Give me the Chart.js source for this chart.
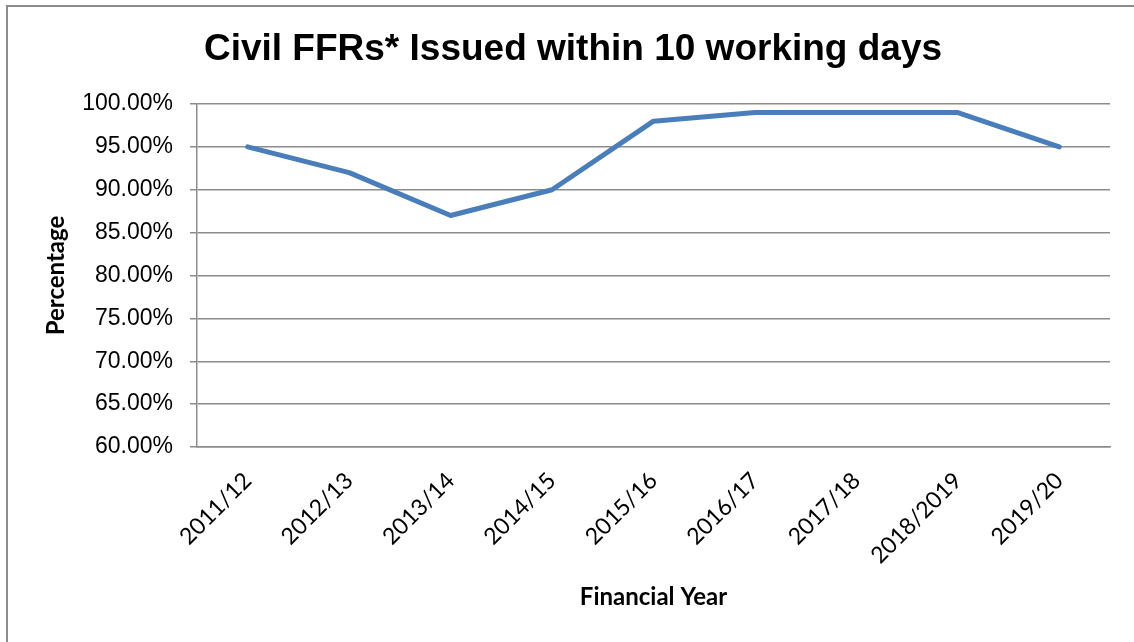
<!DOCTYPE html>
<html>
<head>
<meta charset="utf-8">
<script src="https://cdn.jsdelivr.net/npm/chart.js@4/dist/chart.umd.min.js"></script>
<style>
  html, body { margin: 0; padding: 0; background: #fff; }
  #wrap { position: absolute; left: 0; top: 0; width: 1134px; height: 642px; }
  #frame { position: absolute; left: 6px; top: 5px; width: 1200px; height: 700px;
           border-left: 2px solid #8c8c8c; border-top: 2px solid #8c8c8c; }
  canvas { position: absolute; left: 0; top: 0; }
</style>
</head>
<body>
<div id="wrap">
  <div id="frame"></div>
  <canvas id="c" width="1134" height="642"></canvas>
</div>
<script>
const chartTitle = 'Civil FFRs* Issued within 10 working days';
const xAxisTitle = 'Financial Year';
const yAxisTitle = 'Percentage';
const categories = ['2011/12', '2012/13', '2013/14', '2014/15', '2015/16', '2016/17', '2017/18', '2018/2019', '2019/20'];
const percentValues = [95, 92, 87, 90, 98, 99, 99, 99, 95];
const yMin = 60;
const yMax = 100;
const yStep = 5;

const ctx = document.getElementById('c');
new Chart(ctx, {
  type: 'line',
  data: {
    labels: categories,
    datasets: [{
      data: percentValues,
      borderColor: '#4A7EBB',
      backgroundColor: '#4A7EBB',
      borderWidth: 5,
      borderCapStyle: 'round',
      borderJoinStyle: 'round',
      pointRadius: 0,
      pointHoverRadius: 0,
      tension: 0,
      fill: false
    }]
  },
  options: {
    responsive: false,
    animation: false,
    events: [],
    layout: { padding: { left: 36, right: 24, top: 0, bottom: 0 } },
    plugins: {
      legend: { display: false },
      tooltip: { enabled: false },
      title: {
        display: true,
        text: chartTitle,
        color: '#000',
        font: { family: '"Liberation Sans", Arial, sans-serif', size: 37, weight: 'bold' },
        padding: { top: 28, bottom: 31.6 }
      }
    },
    scales: {
      x: {
        type: 'category',
        offset: true,
        grid: { display: false, drawTicks: false },
        border: { display: true, color: '#8c8c8c', width: 1.5 },
        ticks: {
          color: '#000',
          font: { family: 'Lato, "Open Sans", sans-serif', size: 23 },
          maxRotation: 45,
          minRotation: 45,
          autoSkip: false,
          padding: 20
        },
        title: {
          display: true,
          text: xAxisTitle,
          color: '#000',
          font: { family: 'Lato, "Open Sans", sans-serif', size: 24, weight: 'bold' },
          padding: { top: 0, bottom: 30 }
        },
        afterFit: (s) => { s.height = 195; }
      },
      y: {
        min: yMin,
        max: yMax,
        grid: {
          color: '#8c8c8c',
          lineWidth: 1.5,
          drawTicks: true,
          tickLength: 7
        },
        border: { display: true, color: '#8c8c8c', width: 1.5 },
        ticks: {
          stepSize: yStep,
          color: '#000',
          font: { family: '"Liberation Sans", Arial, sans-serif', size: 23 },
          padding: 17,
          callback: (v) => Number(v).toFixed(2) + '%'
        },
        title: {
          display: true,
          text: yAxisTitle,
          color: '#000',
          font: { family: 'Lato, "Open Sans", sans-serif', size: 24, weight: 'bold' },
          padding: { top: 6, bottom: 0 }
        },
        afterFit: (s) => { s.width = 161; }
      }
    }
  }
});
</script>
</body>
</html>
